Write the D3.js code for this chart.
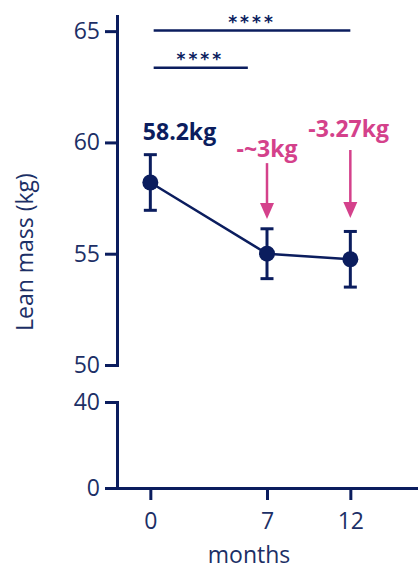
<!DOCTYPE html>
<html lang="en">
<head>
  <meta charset="UTF-8">
  <title>Lean mass over time</title>
  <script src="https://d3js.org/d3.v7.min.js"></script>
  <style>
    body {
      margin: 0;
      background: #fff;
      font-family: 'Open Sans', 'Noto Sans', sans-serif;
    }
    .axis path, .axis line {
      stroke: #0b1d5e;
      stroke-width: 3;
    }
    .axis text {
      fill: #1c2f66;
      font-size: 23px;
      font-family: 'Open Sans', sans-serif;
    }
  </style>
</head>
<body>
<svg width="418" height="566"></svg>
<script>
  const navy = "#0b1d5e",
        pink = "#d4418b";

  // data
  const months = [0, 7, 12];
  const leanMass = [58.2, 55.0, 54.75];
  const errors = [1.25, 1.12, 1.25];

  const xTicks = [0, 7, 12];
  const yTopTicks = [50, 55, 60, 65];
  const yBottomTicks = [0, 40];

  // significance brackets
  const sigFrom = [0.2, 0.2];
  const sigTo = [12, 5.85];
  const sigLevel = [65.03, 63.36];
  const sigStarX = [6.1, 3.0];
  const sigStarY = [65.55, 63.9];

  // text annotations
  const annoText = ["58.2kg", "-~3kg", "-3.27kg"];
  const annoX = [1.75, 7, 11.9];
  const annoY = [60.11, 59.35, 60.24];
  const annoColor = [navy, pink, pink];

  // arrows (month, start value, tip value)
  const arrowX = [7, 12];
  const arrowFrom = [59.07, 59.66];
  const arrowTo = [56.56, 56.6];

  const svg = d3.select("svg");

  const x = d3.scaleLinear().domain([-2, 16]).range([117, 417]);
  const yTop = d3.scaleLinear().domain([50, 65.68]).range([365, 16]);
  const yBot = d3.scaleLinear().domain([0, 40]).range([488, 402]);

  // axes
  svg.append("g")
    .attr("class", "axis")
    .attr("transform", "translate(117,0)")
    .call(d3.axisLeft(yTop).tickValues(yTopTicks).tickSize(12).tickSizeOuter(0).tickPadding(5));

  svg.append("g")
    .attr("class", "axis")
    .attr("transform", "translate(117,0)")
    .call(d3.axisLeft(yBot).tickValues(yBottomTicks).tickSize(12).tickSizeOuter(0).tickPadding(5));

  svg.append("g")
    .attr("class", "axis")
    .attr("transform", "translate(0,488)")
    .call(d3.axisBottom(x).tickValues(xTicks).tickSize(12).tickSizeOuter(0).tickPadding(13));

  svg.selectAll(".axis path").attr("stroke-linecap", "square");

  // axis titles
  svg.append("text")
    .attr("transform", `translate(33,${(yTop(50) + yTop(65)) / 2 + 54}) rotate(-90)`)
    .attr("text-anchor", "middle")
    .attr("font-size", 23)
    .attr("fill", "#1c2f66")
    .text("Lean mass (kg)");

  svg.append("text")
    .attr("x", 249)
    .attr("y", 563)
    .attr("text-anchor", "middle")
    .attr("font-size", 23)
    .attr("fill", "#1c2f66")
    .text("months");

  // significance bars
  const sig = d3.range(sigFrom.length);
  svg.append("g").selectAll("line")
    .data(sig)
    .join("line")
    .attr("x1", i => x(sigFrom[i]))
    .attr("x2", i => x(sigTo[i]))
    .attr("y1", i => yTop(sigLevel[i]))
    .attr("y2", i => yTop(sigLevel[i]))
    .attr("stroke", navy)
    .attr("stroke-width", 2.5);

  svg.append("g").selectAll("text")
    .data(sig)
    .join("text")
    .attr("x", i => x(sigStarX[i]))
    .attr("y", i => yTop(sigStarY[i]))
    .attr("dy", "0.55em")
    .attr("text-anchor", "middle")
    .attr("font-family", "DejaVu Sans")
    .attr("font-weight", "bold")
    .attr("font-size", 17)
    .attr("letter-spacing", 3)
    .attr("fill", navy)
    .text("****");

  // error bars
  const pts = d3.range(months.length);
  const eb = svg.append("g").attr("stroke", navy).attr("stroke-width", 3);
  eb.selectAll(".v").data(pts).join("line")
    .attr("x1", i => x(months[i])).attr("x2", i => x(months[i]))
    .attr("y1", i => yTop(leanMass[i] + errors[i]))
    .attr("y2", i => yTop(leanMass[i] - errors[i]));
  eb.selectAll(".t").data(pts).join("line")
    .attr("x1", i => x(months[i]) - 6.5).attr("x2", i => x(months[i]) + 6.5)
    .attr("y1", i => yTop(leanMass[i] + errors[i]))
    .attr("y2", i => yTop(leanMass[i] + errors[i]));
  eb.selectAll(".b").data(pts).join("line")
    .attr("x1", i => x(months[i]) - 6.5).attr("x2", i => x(months[i]) + 6.5)
    .attr("y1", i => yTop(leanMass[i] - errors[i]))
    .attr("y2", i => yTop(leanMass[i] - errors[i]));

  // line + points
  svg.append("path")
    .datum(pts)
    .attr("fill", "none")
    .attr("stroke", navy)
    .attr("stroke-width", 2.5)
    .attr("d", d3.line().x(i => x(months[i])).y(i => yTop(leanMass[i])));

  svg.append("g").selectAll("circle")
    .data(pts)
    .join("circle")
    .attr("cx", i => x(months[i]))
    .attr("cy", i => yTop(leanMass[i]))
    .attr("r", 8)
    .attr("fill", navy);

  // arrows
  const ar = d3.range(arrowX.length);
  svg.append("g").selectAll("line")
    .data(ar)
    .join("line")
    .attr("x1", i => x(arrowX[i])).attr("x2", i => x(arrowX[i]))
    .attr("y1", i => yTop(arrowFrom[i]))
    .attr("y2", i => yTop(arrowTo[i]) - 12)
    .attr("stroke", pink)
    .attr("stroke-width", 2.5);

  svg.append("g").selectAll("path")
    .data(ar)
    .join("path")
    .attr("d", i => {
      const cx = x(arrowX[i]), ty = yTop(arrowTo[i]);
      return `M${cx - 7},${ty - 16}L${cx + 7},${ty - 16}L${cx},${ty}Z`;
    })
    .attr("fill", pink);

  // annotations
  svg.append("g").selectAll("text")
    .data(d3.range(annoText.length))
    .join("text")
    .attr("x", i => x(annoX[i]))
    .attr("y", i => yTop(annoY[i]))
    .attr("text-anchor", "middle")
    .attr("font-weight", "bold")
    .attr("font-size", 23)
    .attr("fill", i => annoColor[i])
    .text(i => annoText[i]);
</script>
</body>
</html>
